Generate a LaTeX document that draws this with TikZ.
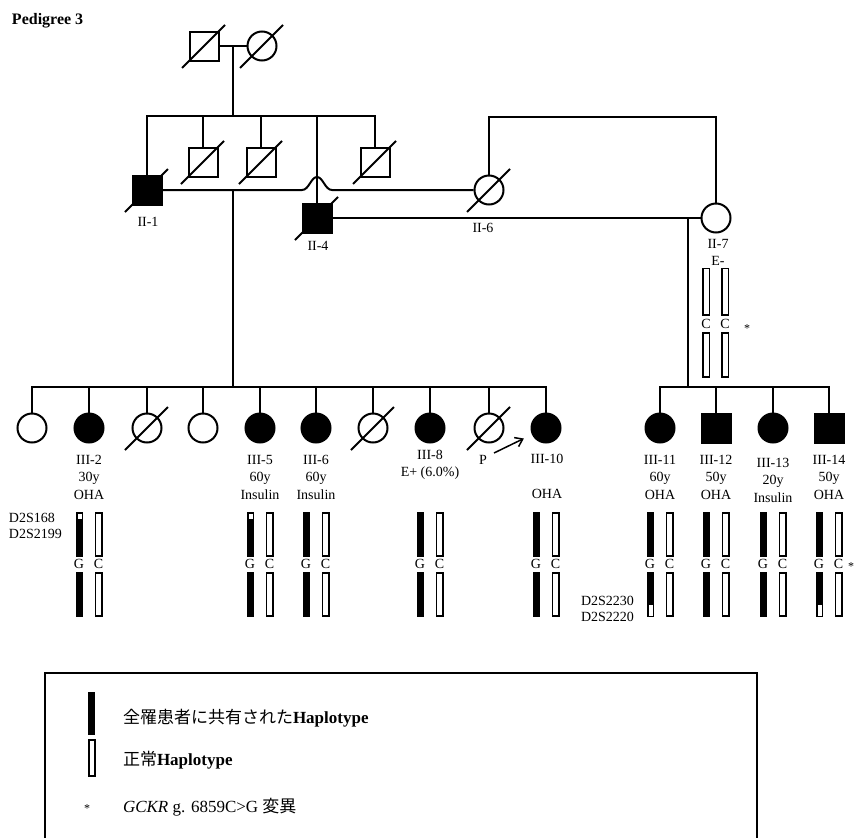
\documentclass[tikz,border=0pt]{standalone}
\usepackage{fontspec}
\setmainfont{Liberation Serif}
\newfontfamily\jpfont{Noto Sans CJK JP}
\usepackage{tikz}
\usetikzlibrary{arrows.meta}

% slash through a deceased person
\newcommand{\dead}[1]{\draw ([shift={(-22,22)}]#1.center) -- ([shift={(21,-21)}]#1.center);}

\begin{document}
\begin{tikzpicture}[x=1pt,y=-1pt,line width=2pt,
  male/.style={draw,rectangle,minimum size=29pt,inner sep=0pt},
  female/.style={draw,circle,minimum size=29pt,inner sep=0pt},
  aff/.style={fill=black},
  lab/.style={font=\fontsize{14}{17.5}\selectfont,align=center,inner sep=0pt},
  hapw/.style={draw,fill=white,line width=1.5pt},
  gc/.style={font=\fontsize{14}{14}\selectfont,inner sep=0pt},
  star/.style={font=\fontsize{12}{12}\selectfont,inner sep=0pt},
  leg/.style={font=\fontsize{17}{17}\selectfont,anchor=west,inner sep=0pt}]
\useasboundingbox (0,0) rectangle (854,838);
\fill[white] (0,0) rectangle (854,838);
\node[font=\bfseries\fontsize{16}{16}\selectfont,anchor=west,inner sep=0pt] (title) at (11,21) {Pedigree 3};

% generation I
\node[male] (i1) at (204,46) {};
\node[female] (i2) at (262,46) {};
\dead{i1} \dead{i2}
\draw (i1) -- (i2);
\coordinate (s1) at (233,116);
\draw (s1) -- (s1 |- i1);

% generation II
\node[male,aff] (ii1) at (147,190) {};
\node[male] (ii2) at (203,162) {};
\node[male] (ii3) at (261,162) {};
\node[male,aff] (ii4) at (317,218) {};
\node[male] (ii5) at (375,162) {};
\node[female] (ii6) at (489,190) {};
\node[female] (ii7) at (716,218) {};
\foreach \p in {ii1,ii2,ii3,ii4,ii5,ii6} \dead{\p}
\foreach \p in {ii1,ii2,ii3,ii4,ii5} \draw (\p.north) |- (s1);
\draw (ii1.east) -- (302,190) .. controls (309,190) and (311,177) .. (317,177)
  .. controls (323,177) and (325,190) .. (332,190) -- (ii6.west);
\draw (ii6.north) -- ++(0,-58) -| (ii7.north);
\draw (ii4) -- (ii7);
\coordinate (s2) at (233,387);
\draw (s2 |- ii1) -- (s2);
\coordinate (s3) at (688,387);
\draw (s3 |- ii7) -- (s3);

\node[lab] (lii1) at (148,222) {II-1};
\node[lab] (lii4) at (318,246) {II-4};
\node[lab] (lii6) at (483,228) {II-6};
\node[lab,anchor=north] (lii7) at (718,238) {II-7\\E-};

% haplotype of II-7
\draw[hapw] (703,268.5) rectangle (709.5,315);
\draw[hapw] (722,268.5) rectangle (728.5,315);
\draw[hapw] (703,333) rectangle (709.5,377);
\draw[hapw] (722,333) rectangle (728.5,377);
\node[gc] (cii7a) at (706,324) {C};
\node[gc] (cii7b) at (725,324) {C};
\node[star] (stii7) at (747,329) {*};

% generation III
\node[female] (iii1) at (32,428) {};
\node[female,aff] (iii2) at (89,428) {};
\node[female] (iii3) at (147,428) {};
\node[female] (iii4) at (203,428) {};
\node[female,aff] (iii5) at (260,428) {};
\node[female,aff] (iii6) at (316,428) {};
\node[female] (iii7) at (373,428) {};
\node[female,aff] (iii8) at (430,428) {};
\node[female] (iii9) at (489,428) {};
\node[female,aff] (iii10) at (546,428) {};
\node[female,aff] (iii11) at (660,428) {};
\node[male,aff] (iii12) at (716,428) {};
\node[female,aff] (iii13) at (773,428) {};
\node[male,aff] (iii14) at (829,428) {};
\foreach \p in {iii3,iii7,iii9} \dead{\p}
\foreach \n in {1,...,10} \draw (iii\n.north) |- (s2);
\foreach \n in {11,...,14} \draw (iii\n.north) |- (s3);

\node[lab,anchor=north] (liii2) at (89,454) {III-2\\30y\\OHA};
\node[lab,anchor=north] (liii5) at (260,454) {III-5\\60y\\Insulin};
\node[lab,anchor=north] (liii6) at (316,454) {III-6\\60y\\Insulin};
\node[lab,anchor=north] (liii8) at (430,449) {III-8\\E+ (6.0\%)};
\node[lab] (lp) at (483,460) {P};
\node[lab,anchor=north] (liii10) at (547,453) {III-10\\[17.5pt]OHA};
\node[lab,anchor=north] (liii11) at (660,454) {III-11\\60y\\OHA};
\node[lab,anchor=north] (liii12) at (716,454) {III-12\\50y\\OHA};
\node[lab,anchor=north] (liii13) at (773,457) {III-13\\20y\\Insulin};
\node[lab,anchor=north] (liii14) at (829,454) {III-14\\50y\\OHA};
\coordinate (arrtail) at (494,453);
\draw[line width=1.5pt,-{Straight Barb[length=7pt,width=10pt]},shorten >=9pt] (arrtail) -- (iii10.205);

% haplotypes of generation III
\foreach \x in {89,260,316,430,546,660,716,773,829}{
  \fill (\x-13,512) rectangle (\x-6,557);
  \fill (\x-13,572) rectangle (\x-6,617);
  \draw[hapw] (\x+6.5,512.8) rectangle (\x+12.8,556.2);
  \draw[hapw] (\x+6.5,572.8) rectangle (\x+12.8,616.2);
  \node[gc] at (\x-10,564) {G};
  \node[gc] at (\x+9.5,564) {C};
}
\foreach \x in {89,260} \fill[white] (\x-11.5,514) rectangle (\x-7.5,518.5);
\foreach \x in {660,829} \fill[white] (\x-11.5,605) rectangle (\x-7.5,615.5);
\node[star] (stiii14) at (851,567) {*};

\node[lab,align=left,anchor=north west,font=\fontsize{14}{16}\selectfont] (mk1) at (8,512) {D2S168\\D2S2199};
\node[lab,align=left,anchor=north west,font=\fontsize{14}{16}\selectfont] (mk2) at (580,595) {D2S2230\\D2S2220};

% legend
\draw (45,838) -- (45,672.5) -- (757,672.5) -- (757,838);
\fill (88,692) rectangle (95,735);
\draw[hapw] (88.8,739.8) rectangle (94.8,776.2);
\node[leg] (lg1) at (122,718) {{\jpfont 全罹患者に共有された}\textbf{Haplotype}};
\node[leg] (lg2) at (122,760) {{\jpfont 正常}\textbf{Haplotype}};
\node[star] (lgst) at (87,809) {*};
\node[leg] (lg3) at (122,807) {\textit{GCKR} g. 6859C>G {\jpfont 変異}};
\end{tikzpicture}
\end{document}
